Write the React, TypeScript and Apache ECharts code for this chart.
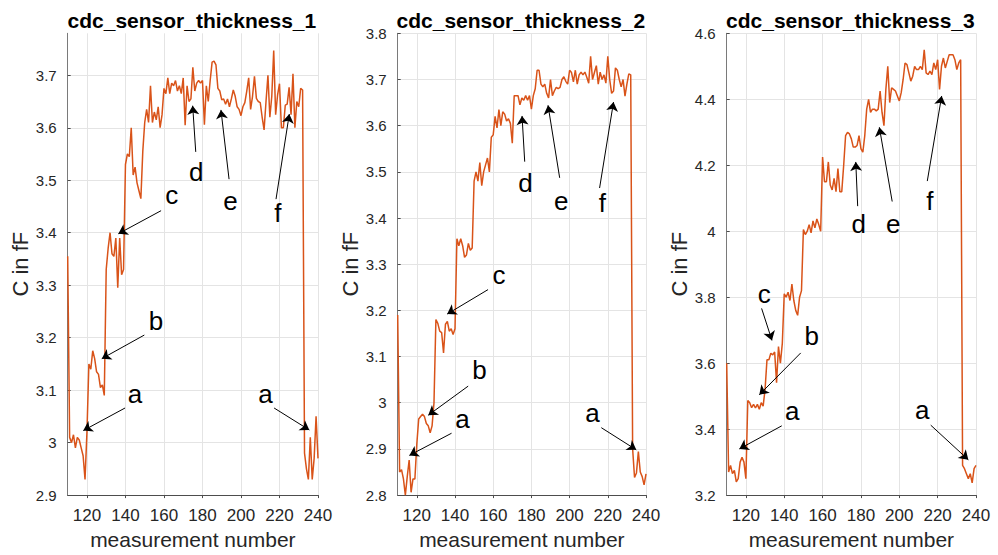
import React, { useEffect, useRef } from "react";
import * as echarts from "echarts";

// measurement numbers run from FIRST_MEASUREMENT upward, one per value
const FIRST_MEASUREMENT = 110;
const X_MIN = 110;
const X_MAX = 240;
const X_TICKS = [120, 140, 160, 180, 200, 220, 240];

const TITLES = ["cdc_sensor_thickness_1", "cdc_sensor_thickness_2", "cdc_sensor_thickness_3"];

const THICKNESS_1 = [
  3.355, 3.01, 3.0, 3.015, 2.99, 3.01, 3.005, 2.99, 2.975, 2.93,
  3.02, 3.15, 3.14, 3.175, 3.16, 3.135, 3.13, 3.105, 3.11, 3.09,
  3.33, 3.37, 3.4, 3.36, 3.355, 3.39, 3.295, 3.39, 3.32, 3.33,
  3.53, 3.55, 3.545, 3.6, 3.51, 3.525, 3.495, 3.48, 3.465, 3.555,
  3.61, 3.635, 3.61, 3.68, 3.61, 3.63, 3.615, 3.64, 3.6, 3.625,
  3.675, 3.665, 3.695, 3.665, 3.685, 3.68, 3.69, 3.67, 3.68, 3.665,
  3.695, 3.605, 3.68, 3.65, 3.655, 3.715, 3.67, 3.685, 3.69, 3.685,
  3.69, 3.606, 3.68, 3.65, 3.69, 3.725, 3.727, 3.72, 3.675, 3.67,
  3.653, 3.655, 3.645, 3.655, 3.64, 3.655, 3.672, 3.66, 3.64, 3.635,
  3.623, 3.64, 3.648, 3.67, 3.695, 3.635, 3.66, 3.698, 3.656, 3.65,
  3.648, 3.62, 3.596, 3.65, 3.7, 3.62, 3.66, 3.747, 3.625, 3.662,
  3.684, 3.6, 3.6, 3.643, 3.645, 3.677, 3.625, 3.703, 3.6, 3.65,
  3.64, 3.675, 3.672, 2.98, 2.95, 2.93, 3.01, 2.93, 2.97, 3.05,
  2.97,
];

const THICKNESS_2 = [
  3.19, 2.85, 2.855, 2.835, 2.8, 2.84, 2.876, 2.806, 2.835, 2.835,
  2.91, 2.965, 2.97, 2.975, 2.97, 2.955, 2.95, 2.935, 2.95, 3.0,
  3.18, 3.172, 3.155, 3.152, 3.108, 3.17, 3.176, 3.155, 3.16, 3.148,
  3.16, 3.355, 3.34, 3.355, 3.34, 3.315, 3.32, 3.345, 3.33, 3.335,
  3.48, 3.5, 3.48, 3.52, 3.47, 3.5, 3.515, 3.53, 3.5, 3.575,
  3.58, 3.62, 3.595, 3.635, 3.6, 3.63, 3.625, 3.61, 3.615, 3.605,
  3.562, 3.665, 3.665, 3.665, 3.645, 3.66, 3.655, 3.665, 3.655, 3.665,
  3.636, 3.665, 3.68, 3.72, 3.72, 3.69, 3.684, 3.69, 3.67, 3.66,
  3.7, 3.665, 3.675, 3.683, 3.68, 3.683, 3.7, 3.706, 3.696, 3.69,
  3.72, 3.715, 3.695, 3.72, 3.69, 3.71, 3.716, 3.71, 3.716, 3.705,
  3.692, 3.75, 3.7, 3.715, 3.73, 3.69, 3.716, 3.7, 3.71, 3.692,
  3.75, 3.7, 3.67, 3.675, 3.725, 3.72, 3.7, 3.684, 3.7, 3.664,
  3.69, 3.712, 3.71, 2.9, 2.838, 2.848, 2.894, 2.85, 2.84, 2.822,
  2.846,
];

const THICKNESS_3 = [
  3.6, 3.27, 3.29, 3.265, 3.275, 3.24, 3.25, 3.3, 3.315, 3.3,
  3.25, 3.487, 3.48, 3.465, 3.475, 3.464, 3.475, 3.46, 3.48, 3.47,
  3.52, 3.61, 3.61, 3.63, 3.625, 3.634, 3.541, 3.65, 3.6, 3.66,
  3.81, 3.8, 3.815, 3.79, 3.84, 3.79, 3.76, 3.745, 3.8, 3.82,
  4.005, 3.99, 4.0, 4.02, 3.995, 4.031, 4.01, 4.037, 4.02, 4.0,
  4.225, 4.15, 4.15, 4.21, 4.14, 4.125, 4.16, 4.12, 4.19, 4.12,
  4.12, 4.2, 4.29, 4.3, 4.295, 4.28, 4.255, 4.255, 4.26, 4.29,
  4.25, 4.24, 4.29, 4.37, 4.4, 4.36, 4.37, 4.37, 4.365, 4.37,
  4.425, 4.36, 4.32, 4.43, 4.5, 4.39, 4.435, 4.43, 4.425, 4.41,
  4.395, 4.42, 4.46, 4.51, 4.505, 4.48, 4.455, 4.47, 4.5, 4.49,
  4.49, 4.5, 4.49, 4.55, 4.48, 4.475, 4.485, 4.475, 4.51, 4.49,
  4.52, 4.43, 4.5, 4.525, 4.495, 4.515, 4.535, 4.535, 4.535, 4.52,
  4.49, 4.51, 4.52, 3.29, 3.28, 3.265, 3.25, 3.265, 3.237, 3.28,
  3.29,
];

const SERIES_VALUES = [THICKNESS_1, THICKNESS_2, THICKNESS_3];

const Y_MIN = [2.9, 2.8, 3.2];
const Y_MAX = [3.78, 3.8, 4.6];
const Y_STEP = [0.1, 0.1, 0.2];

// annotation letters with arrows: [letter, textPos, arrowStart, arrowEnd] in data coordinates
type Note = [string, number[], number[], number[]];
const NOTES_1: Note[] = [
  ["a", [144.96, 3.092], [139.8, 3.066], [118.1, 3.023]],
  ["a", [212.75, 3.092], [217.2, 3.066], [235.5, 3.024]],
  ["b", [155.8, 3.2315], [149.8, 3.205], [127.7, 3.16]],
  ["c", [164.0, 3.472], [158.5, 3.442], [136.3, 3.398]],
  ["d", [176.75, 3.516], [176.5, 3.554], [174.9, 3.642]],
  ["e", [194.6, 3.46], [193.8, 3.502], [189.6, 3.634]],
  ["f", [219.2, 3.437], [218.2, 3.464], [225.1, 3.626]],
];
const NOTES_2: Note[] = [
  ["a", [143.86, 2.9657], [138.2, 2.934], [116.1, 2.886]],
  ["b", [152.84, 3.0713], [146.9, 3.036], [126.0, 2.973]],
  ["c", [163.08, 3.2769], [157.3, 3.245], [135.9, 3.192]],
  ["a", [212.04, 2.978], [216.6, 2.946], [234.9, 2.898]],
  ["d", [176.93, 3.476], [176.5, 3.522], [175.1, 3.621]],
  ["e", [195.68, 3.4375], [194.8, 3.487], [188.7, 3.644]],
  ["f", [217.16, 3.433], [215.7, 3.465], [223.0, 3.651]],
];
const NOTES_3: Note[] = [
  ["a", [144.15, 3.454], [138.7, 3.41], [116.6, 3.34]],
  ["b", [154.37, 3.681], [148.6, 3.631], [127.0, 3.504]],
  ["c", [129.55, 3.811], [128.2, 3.766], [133.6, 3.669]],
  ["a", [211.93, 3.457], [216.4, 3.412], [236.0, 3.307]],
  ["d", [178.82, 4.023], [178.3, 4.076], [177.3, 4.21]],
  ["e", [196.86, 4.023], [196.3, 4.09], [189.6, 4.315]],
  ["f", [216.0, 4.092], [214.6, 4.152], [222.1, 4.41]],
];
const NOTES = [NOTES_1, NOTES_2, NOTES_3];

// layout
const GRID_LEFT = [67.7, 397.7, 726.7];
const GRID_WIDTH = [250.3, 248.3, 249.3];
const GRID_TOP = 33.3;
const GRID_HEIGHT = 467.4;
const TITLE_PADDING = 5;

const FONT = "'Liberation Sans', Arial, Helvetica, sans-serif";
const LINE_COLOR = "#D95319";
const GRID_COLOR = "#e4e4e4";
const AXIS_COLOR = "#4d4d4d";
const TEXT_COLOR = "#262626";

export default function App() {
  const ref = useRef<HTMLDivElement>(null);

  useEffect(() => {
    if (!ref.current) return;
    const chart = echarts.init(ref.current, null, { renderer: "svg" });

    const grid = GRID_LEFT.map((left, i) => ({
      left,
      top: GRID_TOP,
      width: GRID_WIDTH[i],
      height: GRID_HEIGHT,
      containLabel: false,
    }));

    const title = TITLES.map((text, i) => ({
      text,
      left: GRID_LEFT[i] + GRID_WIDTH[i] / 2 - TITLE_PADDING - 1,
      top: 5,
      padding: TITLE_PADDING,
      textAlign: "center",
      textStyle: { fontSize: 21, fontWeight: "bold", color: "#000", fontFamily: FONT },
    }));

    const xAxis = TITLES.map((_, i) => ({
      gridIndex: i,
      type: "value",
      min: X_MIN,
      max: X_MAX,
      name: "measurement number",
      nameLocation: "middle",
      nameGap: 28,
      nameTextStyle: { fontSize: 21, color: TEXT_COLOR, fontFamily: FONT },
      axisLine: { show: true, lineStyle: { color: AXIS_COLOR, width: 1 } },
      axisTick: { show: true, customValues: X_TICKS, length: 3, lineStyle: { color: AXIS_COLOR } },
      axisLabel: {
        customValues: X_TICKS,
        fontSize: 17,
        color: TEXT_COLOR,
        margin: 12,
        fontFamily: FONT,
      },
      splitLine: { show: false },
    }));

    const yAxis = TITLES.map((_, i) => ({
      gridIndex: i,
      type: "value",
      min: Y_MIN[i],
      max: Y_MAX[i],
      interval: Y_STEP[i],
      name: "C in fF",
      nameLocation: "middle",
      nameRotate: 90,
      nameGap: 34,
      nameTextStyle: { fontSize: 22, color: TEXT_COLOR, fontFamily: FONT },
      axisLine: { show: true, lineStyle: { color: "#7a7a7a", width: 1 } },
      axisTick: { show: true, inside: true, length: 3, lineStyle: { color: AXIS_COLOR } },
      axisLabel: {
        fontSize: 15,
        color: TEXT_COLOR,
        margin: 11,
        fontFamily: FONT,
        showMaxLabel: i !== 0,
        showMinLabel: true,
        formatter: (v: number) => String(Math.round(v * 10) / 10),
      },
      splitLine: { show: true, showMaxLine: i !== 0, lineStyle: { color: GRID_COLOR, width: 1 } },
    }));

    const series: any[] = [];
    SERIES_VALUES.forEach((values, i) => {
      // vertical grid lines at the x ticks (drawn beneath the data)
      series.push({
        type: "line",
        xAxisIndex: i,
        yAxisIndex: i,
        data: [],
        z: 0,
        silent: true,
        markLine: {
          silent: true,
          z: 0,
          symbol: "none",
          label: { show: false },
          lineStyle: { color: GRID_COLOR, width: 1, type: "solid" },
          emphasis: { disabled: true },
          data: X_TICKS.map((v) => ({ xAxis: v })),
          animation: false,
        },
      });
      series.push({
        type: "line",
        xAxisIndex: i,
        yAxisIndex: i,
        z: 3,
        showSymbol: false,
        symbol: "none",
        lineStyle: { color: LINE_COLOR, width: 1.5 },
        itemStyle: { color: LINE_COLOR },
        data: values.map((v, k) => [FIRST_MEASUREMENT + k, v]),
        markLine: {
          silent: true,
          z: 6,
          symbol: ["none", "arrow"],
          symbolSize: 9,
          label: { show: false },
          lineStyle: { color: "#000", width: 1, type: "solid" },
          emphasis: { disabled: true },
          data: NOTES[i].map((n) => [{ coord: n[2] }, { coord: n[3] }]),
          animation: false,
        },
        markPoint: {
          silent: true,
          z: 6,
          symbol: "circle",
          symbolSize: 1,
          itemStyle: { color: "rgba(0,0,0,0)" },
          label: {
            show: true,
            position: "inside",
            formatter: "{b}",
            fontSize: 26,
            color: "#000",
            fontFamily: FONT,
          },
          data: NOTES[i].map((n) => ({ name: n[0], coord: n[1] })),
          animation: false,
        },
      });
    });

    chart.setOption({
      animation: false,
      backgroundColor: "#fff",
      textStyle: { fontFamily: FONT },
      title,
      grid,
      xAxis,
      yAxis,
      series,
    });

    return () => chart.dispose();
  }, []);

  return (
    <div
      ref={ref}
      style={{ position: "fixed", left: 0, top: 0, width: 998, height: 555, background: "#fff" }}
    />
  );
}
